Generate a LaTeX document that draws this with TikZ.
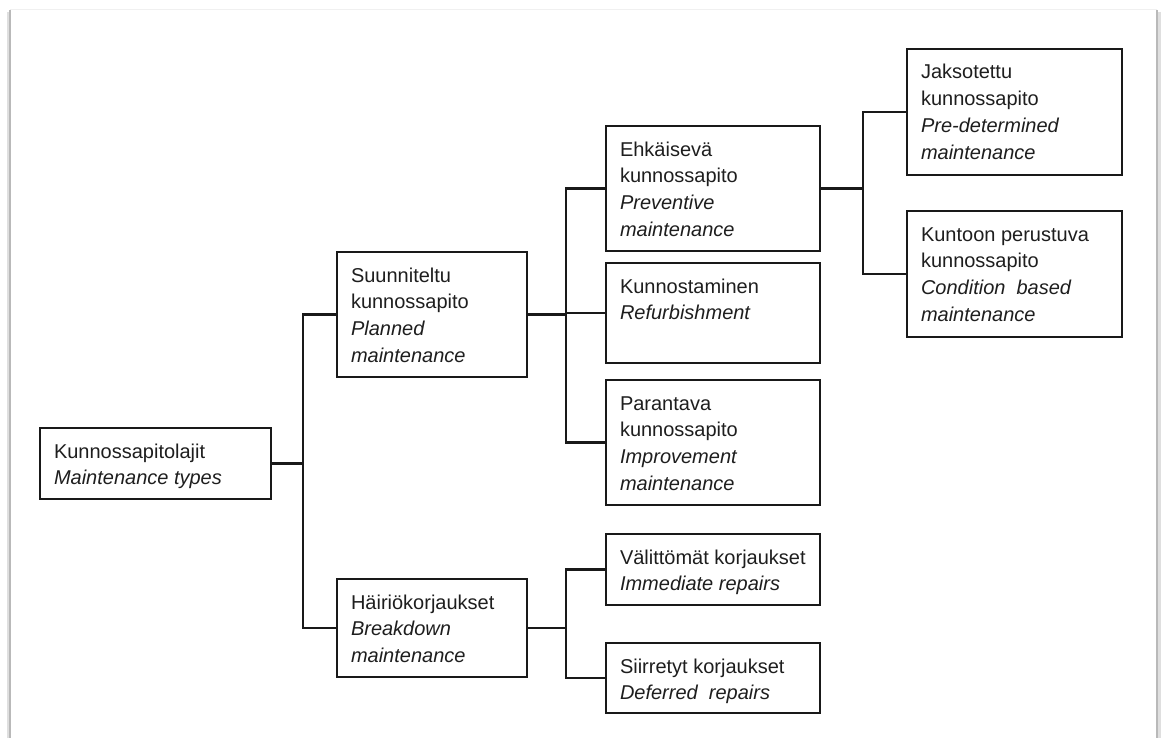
\documentclass[tikz,border=0pt]{standalone}
\usepackage{fontspec}
\setmainfont{Liberation Sans}
\definecolor{txt}{RGB}{30,30,30}
\definecolor{ln}{RGB}{25,25,25}
\newcommand\bx[3]{\parbox[c][#2pt][t]{#1pt}{\raggedright\leftskip=14pt\baselineskip=26.7pt\rule{0pt}{30pt}#3}}
\tikzset{
  mbox/.style={draw=ln, line width=2.2pt, inner sep=0pt, outer sep=0pt, anchor=north west,
    text=txt, font=\fontsize{20}{26.7}\selectfont},
  conn/.style={draw=ln, line width=2.2pt}
}
\begin{document}
\begin{tikzpicture}[x=1pt,y=-1pt]
\useasboundingbox (0,0) rectangle (1161,738);
\fill[white] (0,0) rectangle (1161,738);
% outer frame with soft shadow
\draw[gray!12, line width=1pt] (10,10) -- (1157,10);
\draw[gray!25, line width=3pt] (8,12) -- (8,740);
\draw[gray!55, line width=1.2pt] (10,10) -- (10,740);
\draw[gray!25, line width=3pt] (1159,12) -- (1159,740);
\draw[gray!55, line width=1.2pt] (1157,10) -- (1157,740);

\node[mbox] (root) at (40,428) {\bx{231}{71}{Kunnossapitolajit\\\textit{Maintenance types}}};
\node[mbox] (plan) at (337,252) {\bx{190}{125}{Suunniteltu\\kunnossapito\\\textit{Planned}\\\textit{maintenance}}};
\node[mbox] (brk) at (337,579) {\bx{190}{98}{Häiriökorjaukset\\\textit{Breakdown}\\\textit{maintenance}}};
\node[mbox] (ehk) at (606,126) {\bx{214}{125}{Ehkäisevä\\kunnossapito\\\textit{Preventive}\\\textit{maintenance}}};
\node[mbox] (kun) at (606,263) {\bx{214}{100}{Kunnostaminen\\\textit{Refurbishment}}};
\node[mbox] (par) at (606,380) {\bx{214}{125}{Parantava\\kunnossapito\\\textit{Improvement}\\\textit{maintenance}}};
\node[mbox] (val) at (606,534) {\bx{214}{71}{Välittömät korjaukset\\\textit{Immediate repairs}}};
\node[mbox] (sii) at (606,643) {\bx{214}{70}{Siirretyt korjaukset\\\textit{Deferred~ repairs}}};
\node[mbox] (jak) at (907,49) {\bx{215}{126}{Jaksotettu\\kunnossapito\\\textit{Pre-determined}\\\textit{maintenance}}};
\node[mbox] (kpt) at (907,211) {\bx{215}{126}{Kuntoon perustuva\\kunnossapito\\\textit{Condition~ based}\\\textit{maintenance}}};

% connectors
\draw[conn] (root.east) -- ++(32,0) coordinate (j1);
\draw[conn] (plan.west) -| (j1) |- (brk.west);

\draw[conn] (plan.east) -- ++(39,0) coordinate (j2);
\draw[conn] (ehk.west) -| (j2) |- (par.west);
\draw[conn] (kun.west) -- (kun.west -| j2);

\draw[conn] (brk.east) -- ++(39,0) coordinate (j3);
\draw[conn] (val.west) -| (j3) |- (sii.west);

\draw[conn] (ehk.east) -- ++(43,0) coordinate (j4);
\draw[conn] (jak.west) -| (j4) |- (kpt.west);
\end{tikzpicture}
\end{document}
